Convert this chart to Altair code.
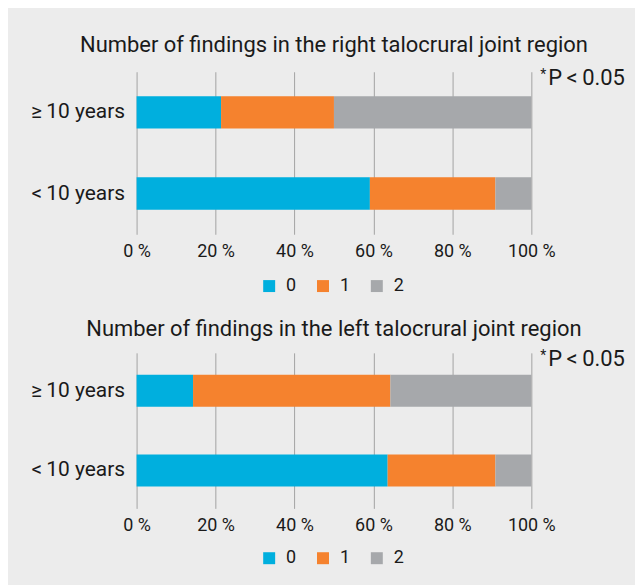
import altair as alt
import pandas as pd

# ---- data ----
groups = ["\u2265\u200910 years", "<\u200910 years"]
findings = ["0", "1", "2"]
right_ge10 = [21.4, 28.6, 50.0]
right_lt10 = [59.1, 31.8, 9.1]
left_ge10 = [14.3, 50.0, 35.7]
left_lt10 = [63.6, 27.3, 9.1]
titles = [
    "Number of findings in the right talocrural joint region",
    "Number of findings in the left talocrural joint region",
]
x_ticks = [0, 20, 40, 60, 80, 100]
sig_star = "*"
sig_text = "P\u2009<\u20090.05"
colors = ["#00AFDE", "#F5822E", "#A6A8AB"]

FONT = "Roboto"
TXT = "#1a1a1a"


def panel(title, ge, lt, height, outer, legend_y, title_offset):
    rows = []
    for g, vals in zip(groups, [ge, lt]):
        for i, (f, v) in enumerate(zip(findings, vals)):
            rows.append({"group": g, "finding": f, "value": v, "order": i})
    df = pd.DataFrame(rows)
    bars = alt.Chart(df).mark_bar().encode(
        x=alt.X(
            "value:Q",
            stack="zero",
            scale=alt.Scale(domain=[0, 100], nice=False),
            axis=alt.Axis(
                values=x_ticks,
                labelExpr="datum.value + ' %'",
                title=None,
                domain=False,
                ticks=False,
                grid=True,
                gridColor="#a3a3a3",
                gridWidth=1,
                labelFontSize=18,
                labelPadding=8,
                labelFlush=False,
            ),
        ),
        y=alt.Y(
            "group:N",
            sort=groups,
            scale=alt.Scale(paddingInner=0.6, paddingOuter=outer),
            axis=alt.Axis(
                title=None,
                domain=False,
                ticks=False,
                grid=False,
                labelFontSize=21,
                labelPadding=12,
                minExtent=115,
                maxExtent=115,
            ),
        ),
        color=alt.Color(
            "finding:N",
            scale=alt.Scale(domain=findings, range=colors),
            legend=alt.Legend(
                title=None,
                orient="none",
                legendX=124,
                legendY=legend_y,
                direction="horizontal",
                symbolType="square",
                symbolSize=144,
                symbolStrokeWidth=0,
                labelFontSize=18,
                labelFont=FONT,
                labelColor=TXT,
                columnPadding=17,
                labelOffset=8,
                padding=0,
            ),
        ),
        order=alt.Order("order:Q"),
    )
    ann = pd.DataFrame({"value": [100], "star": [sig_star], "text": [sig_text]})
    star = alt.Chart(ann).mark_text(
        align="left", baseline="alphabetic", dx=9, fontSize=14, font=FONT, color=TXT
    ).encode(x="value:Q", y=alt.value(7), text="star:N")
    sig = alt.Chart(ann).mark_text(
        align="left", baseline="alphabetic", dx=17, fontSize=22, font=FONT, color=TXT
    ).encode(x="value:Q", y=alt.value(13), text="text:N")
    return alt.layer(bars, star, sig).properties(
        title=alt.TitleParams(text=title, offset=title_offset),
        width=396,
        height=height,
    )


p1 = panel(titles[0], right_ge10, right_lt10, 163, 0.3, 206, 10)
p2 = panel(titles[1], left_ge10, left_lt10, 156, 0.275, 197, 7)

chart = (
    alt.vconcat(p1, p2, spacing=23)
    .resolve_scale(color="independent")
    .resolve_legend(color="independent")
    .properties(
        background="#ececec",
        padding={"left": 14, "top": 25, "right": 10, "bottom": 41},
    )
    .configure_view(stroke=None)
    .configure_axis(labelFont=FONT, labelColor=TXT)
    .configure_title(
        font=FONT, fontSize=22, fontWeight="normal", color=TXT, anchor="middle"
    )
)

chart.save("out.html", embed_options={"renderer": "svg", "actions": False})
